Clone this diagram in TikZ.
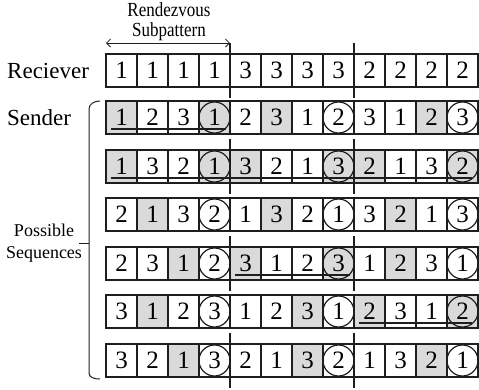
\documentclass[tikz,border=0pt]{standalone}
\usepackage{fontspec}
\setmainfont{Liberation Serif}
\usetikzlibrary{arrows.meta,positioning,calc}
\definecolor{Ink}{HTML}{1E1E1E}
\definecolor{Shade}{HTML}{DADADA}
\tikzset{
  cellbox/.style={draw=Ink,line width=1.3pt,minimum width=31pt,minimum height=33pt,inner sep=0pt,outer sep=0pt,anchor=north west,font=\fontsize{25}{25}\selectfont},
  cellg/.style={fill=Shade},
  cellw/.style={fill=white},
  ring/.style={draw=Ink,line width=1.2pt},
  uline/.style={draw=Ink,line width=1.4pt},
  sepline/.style={draw=Ink,line width=1.3pt},
  span/.style={{Straight Barb[length=4pt,width=8pt]}-{Straight Barb[length=4pt,width=8pt]},line width=0.8pt,draw=Ink},
  rowlabel/.style={anchor=west,inner sep=0pt,font=\fontsize{23}{23}\selectfont},
  smalllabel/.style={align=center,inner sep=0pt,font=\fontsize{18}{22}\selectfont}
}
\begin{document}
\begin{tikzpicture}[x=1pt,y=1pt]
  \useasboundingbox (0,0) rectangle (479,-389);
  % receiver
  \foreach \d [count=\c] in {1,1,1,1,3,3,3,3,2,2,2,2}
    \node[cellbox,cellw] (r0-\c) at ({106+31*(\c-1)},-54) {\d};
  % sender sequences
  \foreach \row/\top/\seq in {
      1/101/{1/g,2/w,3/w,1/g,2/w,3/g,1/w,2/w,3/w,1/w,2/g,3/w},
      2/150/{1/g,3/w,2/w,1/g,3/g,2/w,1/w,3/g,2/g,1/w,3/w,2/g},
      3/198/{2/w,1/g,3/w,2/w,1/w,3/g,2/w,1/w,3/w,2/g,1/w,3/w},
      4/247/{2/w,3/w,1/g,2/w,3/g,1/w,2/w,3/g,1/w,2/g,3/w,1/w},
      5/295/{3/w,1/g,2/w,3/w,1/w,2/w,3/g,1/w,2/g,3/w,1/w,2/g},
      6/344/{3/w,2/w,1/g,3/w,2/w,1/w,3/g,2/w,1/w,3/w,2/g,1/w}} {
    \foreach \d/\s [count=\c] in \seq
      \node[cellbox,cell\s] (s\row-\c) at ({106+31*(\c-1)},-\top) {\d};
    \foreach \c in {4,8,12}
      \draw[ring] (s\row-\c.center) circle[radius=15.5pt];
  }
  % underlined subpatterns
  \draw[uline] ($(s1-1.south west)+(5,5)$) -- ($(s1-4.south east)+(-4,5)$);
  \draw[uline] ($(s2-1.south west)+(5,5)$) -- ($(s2-12.south east)+(-6,5)$);
  \draw[uline] ($(s4-5.south west)+(5,5)$) -- ($(s4-8.south east)+(-4,5)$);
  \draw[uline] ($(s5-9.south west)+(5,5)$) -- ($(s5-12.south east)+(-6,5)$);
  % subpattern separators
  \foreach \r in {r0,s2,s4,s6}
    \foreach \c in {4,8}
      \draw[sepline] ($(\r-\c.north east)+(0,11)$) -- ($(\r-\c.south east)+(0,-11)$);
  % rendezvous span
  \draw[span] ($(r0-1.north west)+(0,11)$) -- ($(r0-4.north east)+(0,11)$);
  \node[smalllabel,xscale=0.85,font=\fontsize{20}{20}\selectfont] (rdv) at (169,-22) {Rendezvous\\Subpattern};
  % row labels
  \node[rowlabel] (recv) at (7,-71) {Reciever};
  \node[rowlabel] (send) at (7,-118) {Sender};
  \node[smalllabel] (poss) at (44,-243) {Possible\\Sequences};
  % bracket
  \coordinate (bt) at ($(s1-1.north west)+(-6,0)$);
  \coordinate (bb) at ($(s6-1.south west)+(-6,-2)$);
  \coordinate (bx) at ($(bt)+(-11,0)$);
  \draw[line width=1pt,draw=Ink] (bt) to[out=180,in=90] ($(bt)+(-11,-8)$) -- ($(bb)+(-11,6)$) to[out=-90,in=180] (bb);
  \draw[line width=1pt,draw=Ink] (bx|-poss.east) -- ($(poss.east)+(-3,0)$);
\end{tikzpicture}
\end{document}
